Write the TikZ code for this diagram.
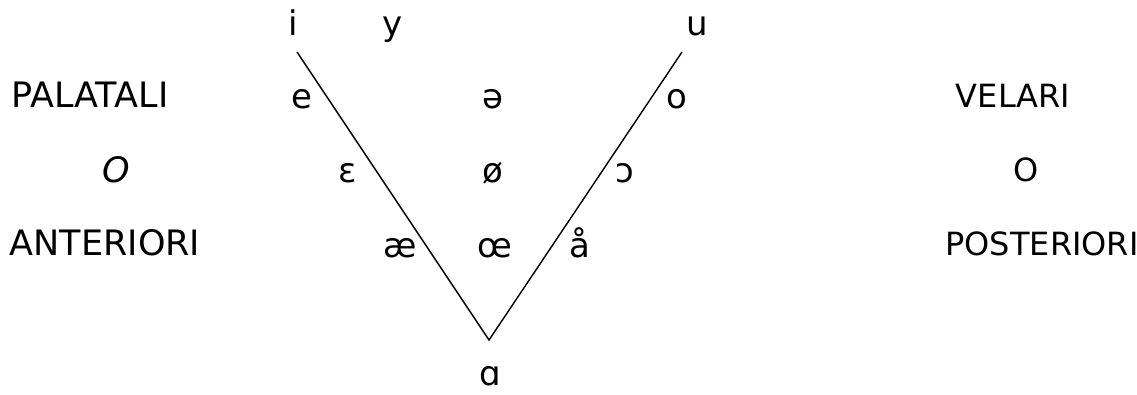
\documentclass[tikz,border=0pt]{standalone}
\usepackage{fontspec}
\setmainfont{DejaVu Sans}
\usetikzlibrary{positioning}

\begin{document}
\begin{tikzpicture}[x=1pt, y=-1pt,
    vowel/.style={font=\fontsize{34}{38}\selectfont, inner sep=0pt, anchor=base},
    side/.style={font=\fontsize{32}{36}\selectfont, inner sep=0pt, anchor=base},
    leftside/.style={side, font=\fontsize{35}{38}\selectfont},
  ]
  \useasboundingbox (0,0) rectangle (1137,394);
  % the triangle
  \coordinate (front) at (297,52);
  \coordinate (low) at (489,340);
  \coordinate (back) at (682,52);
  \draw[line width=1.4pt] (front) -- (low) -- (back);
  % vowels
  \node[vowel] (i) at (293,35) {i};
  \node[vowel] (y) at (393,35) {y};
  \node[vowel] (u) at (697,35) {u};
  \node[vowel] (e) at (302,108) {e};
  \node[vowel] (schwa) at (493,108) {ə};
  \node[vowel] (o) at (677,108) {o};
  \node[vowel] (eps) at (348,182) {ɛ};
  \node[vowel] (oslash) at (493,182) {ø};
  \node[vowel] (openo) at (625,182) {ɔ};
  \node[vowel] (ae) at (400,257) {æ};
  \node[vowel] (oe) at (495,257) {œ};
  \node[vowel] (aring) at (580,257) {å};
  \node[vowel] (alpha) at (490,385) {ɑ};
  % sides
  \node[leftside] (palatali) at (90,107) {PALATALI};
  \node[leftside] (lor) at (116,182) {\itshape O};
  \node[leftside] (anteriori) at (105,255) {ANTERIORI};
  \node[side] (velari) at (1013,107) {VELARI};
  \node[side] (ror) at (1026,181) {O};
  \node[side] (posteriori) at (1042,255) {POSTERIORI};
\end{tikzpicture}
\end{document}
